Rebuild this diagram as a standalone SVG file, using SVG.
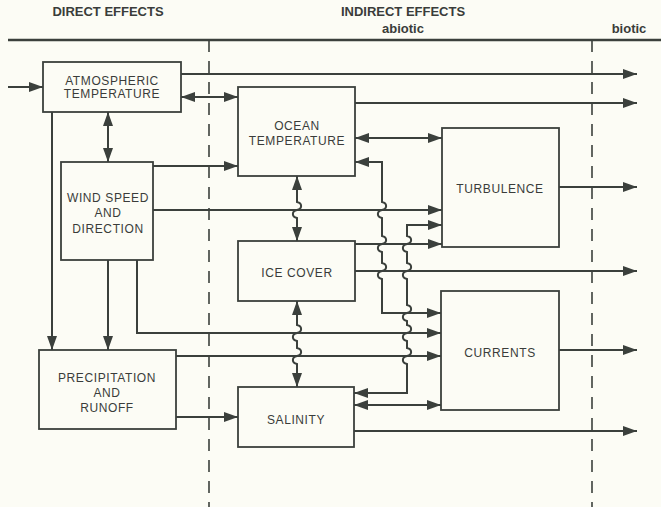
<svg xmlns="http://www.w3.org/2000/svg" width="661" height="507" viewBox="0 0 661 507">
<defs>
<marker id="ah" markerUnits="userSpaceOnUse" markerWidth="15" markerHeight="11" refX="14" refY="5" orient="auto-start-reverse">
<path d="M0,0 L14,5 L0,10 z" fill="#3b403c"/>
</marker>
<style>
.bx{fill:none;stroke:#3b403c;stroke-width:1.8}
.ln{fill:none;stroke:#3b403c;stroke-width:2}
.a{marker-end:url(#ah)}
.d{marker-start:url(#ah);marker-end:url(#ah)}
.dash{fill:none;stroke:#3b403c;stroke-width:1.6;stroke-dasharray:12 9}
.t{font-family:"Liberation Sans",Arial,sans-serif;font-size:12px;fill:#3a3c3a;text-anchor:middle;letter-spacing:0.6px}
.h{font-family:"Liberation Sans",Arial,sans-serif;font-size:13px;font-weight:bold;fill:#3a3c3a;text-anchor:middle}
</style>
</defs>
<rect width="661" height="507" fill="#fcfcf5"/>
<g id="header">
<line x1="8" y1="40" x2="661" y2="40" stroke="#3b403c" stroke-width="2.5"/>
<text class="h" x="108" y="16">DIRECT EFFECTS</text>
<text class="h" x="403" y="16">INDIRECT EFFECTS</text>
<text class="h" x="403" y="33">abiotic</text>
<text class="h" x="629" y="33">biotic</text>
<line class="dash" x1="209" y1="40" x2="209" y2="507"/>
<line class="dash" x1="592" y1="40" x2="592" y2="507"/>
</g>
<g id="connectors">
<path class="ln a" d="M8,87 L43,87"/>
<path class="ln a" d="M181,74 L637,74"/>
<path class="ln d" d="M181,97 L238,97"/>
<path class="ln d" d="M108,112 L108,162"/>
<path class="ln a" d="M52,112 L52,350"/>
<path class="ln a" d="M153,166 L238,166"/>
<path class="ln a" d="M153,210 L442,210"/>
<path class="ln a" d="M108,260 L108,350"/>
<path class="ln a" d="M137,260 L137,333 L441,333"/>
<path class="ln a" d="M176,356 L441,356"/>
<path class="ln a" d="M176,417 L238,417"/>
<path class="ln a" d="M355,103 L637,103"/>
<path class="ln d" d="M355,138 L442,138"/>
<path class="ln d" d="M355,162 L382,162 L382,202 C387.5,203 387.5,209 382,210 C376.5,211 376.5,217 382,218 L382,236 C387.5,237 387.5,243 382,244 C376.5,245 376.5,251 382,252 L382,263 C387.5,264 387.5,270 382,271 C376.5,272 376.5,278 382,279 L382,313 L441,313"/>
<path class="ln d" d="M297,176 L297,202 C302.5,203 302.5,209 297,210 C291.5,211 291.5,217 297,218 L297,241"/>
<path class="ln a" d="M355,244 L442,244"/>
<path class="ln a" d="M355,271 L637,271"/>
<path class="ln d" d="M297,301 L297,325 C302.5,326 302.5,332 297,333 C291.5,334 291.5,340 297,341 L297,348 C302.5,349 302.5,355 297,356 C291.5,357 291.5,363 297,364 L297,387"/>
<path class="ln d" d="M442,225 L407,225 L407,236 C412.5,237 412.5,243 407,244 C401.5,245 401.5,251 407,252 L407,263 C412.5,264 412.5,270 407,271 C401.5,272 401.5,278 407,279 L407,305 C412.5,306 412.5,312 407,313 C401.5,314 401.5,320 407,321 L407,325 C412.5,326 412.5,332 407,333 C401.5,334 401.5,340 407,341 L407,348 C412.5,349 412.5,355 407,356 C401.5,357 401.5,363 407,364 L407,393 L354,393"/>
<path class="ln d" d="M354,405 L441,405"/>
<path class="ln a" d="M354,431 L637,431"/>
<path class="ln a" d="M559,187 L637,187"/>
<path class="ln a" d="M559,350 L637,350"/>
</g>
<g id="atm">
<rect class="bx" x="43" y="62" width="138" height="50" fill="#fcfcf5"/>
<text class="t" x="112" y="84.5">ATMOSPHERIC</text>
<text class="t" x="112" y="98">TEMPERATURE</text>
</g>
<g id="wind">
<rect class="bx" x="61" y="162" width="92" height="98"/>
<text class="t" x="108" y="201.5">WIND SPEED</text>
<text class="t" x="108" y="217">AND</text>
<text class="t" x="108" y="232.5">DIRECTION</text>
</g>
<g id="precip">
<rect class="bx" x="39" y="350" width="137" height="79"/>
<text class="t" x="107" y="381.5">PRECIPITATION</text>
<text class="t" x="107" y="396.5">AND</text>
<text class="t" x="107" y="411.5">RUNOFF</text>
</g>
<g id="ocean">
<rect class="bx" x="238" y="87" width="117" height="89"/>
<text class="t" x="297" y="129.5">OCEAN</text>
<text class="t" x="297" y="144.5">TEMPERATURE</text>
</g>
<g id="ice">
<rect class="bx" x="238" y="241" width="117" height="60"/>
<text class="t" x="297" y="276.5">ICE COVER</text>
</g>
<g id="salinity">
<rect class="bx" x="238" y="387" width="116" height="60"/>
<text class="t" x="296" y="423.5">SALINITY</text>
</g>
<g id="turbulence">
<rect class="bx" x="442" y="128" width="117" height="119"/>
<text class="t" x="500" y="192.5">TURBULENCE</text>
</g>
<g id="currents">
<rect class="bx" x="441" y="291" width="118" height="119"/>
<text class="t" x="500" y="356.5">CURRENTS</text>
</g>
</svg>
